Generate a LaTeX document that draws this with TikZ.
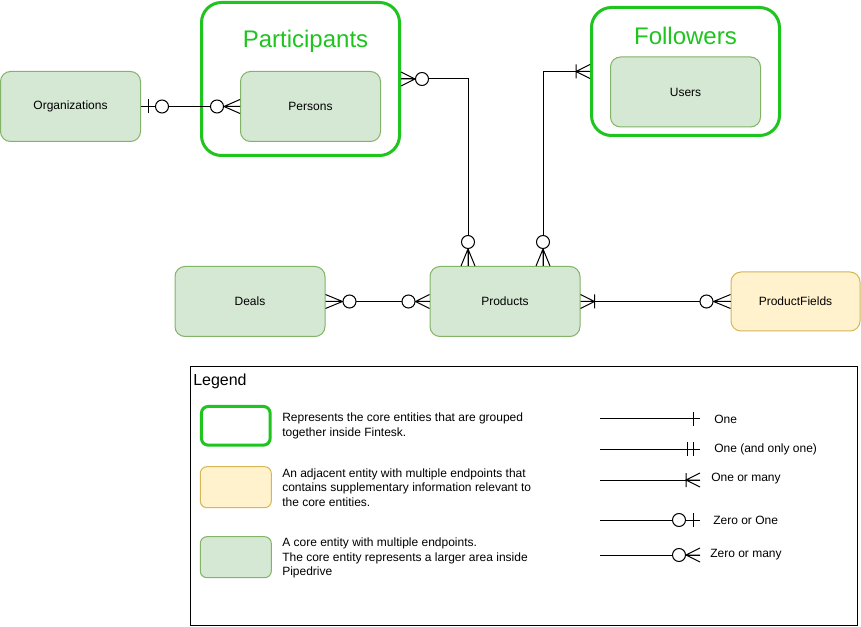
\documentclass[tikz,border=0pt]{standalone}
\usepackage{fontspec}
\setmainfont{Liberation Sans}
\usetikzlibrary{calc}
\definecolor{entfill}{HTML}{D5E8D4}
\definecolor{entdraw}{HTML}{82B366}
\definecolor{adjfill}{HTML}{FFF2CC}
\definecolor{adjdraw}{HTML}{D6B656}
\definecolor{grpgreen}{HTML}{1FC41F}
\tikzset{
  entity/.style={draw=entdraw, fill=entfill, rounded corners=7.5pt, line width=0.75pt,
    minimum width=112.5pt, minimum height=52.5pt, font=\fontsize{9}{10.8}\selectfont, inner sep=0pt},
  adjacent/.style={entity, draw=adjdraw, fill=adjfill},
  group/.style={draw=grpgreen, line width=2.25pt, rounded corners=15pt, inner sep=0pt},
  grouptitle/.style={text=grpgreen, font=\fontsize{18}{21.6}\selectfont, inner sep=0pt},
  conn/.style={line width=0.75pt, draw=black},
  legtext/.style={anchor=west, align=left, font=\fontsize{9}{10.8}\selectfont, inner sep=0pt},
}
% #1 circle position, #2 anchor, #3 direction away from the entity
\newcommand\ErZeroMany[3][23]{\begin{scope}[shift={(#2)},rotate=#3]
  \draw[conn] (0,7) -- ({#1-7},0) -- (0,-7) (0,0) -- ({#1-7},0);
  \draw[conn,fill=white] (#1,0) circle[radius=6.5];
\end{scope}}
\newcommand\ErZeroOne[2]{\begin{scope}[shift={(#1)},rotate=#2]
  \draw[conn] (7,7) -- (7,-7);
  \draw[conn,fill=white] (21,0) circle[radius=6.5];
\end{scope}}
\newcommand\ErOneMany[2]{\begin{scope}[shift={(#1)},rotate=#2]
  \draw[conn] (0,7) -- (14,0) -- (0,-7) (0,0) -- (14,0) (14,7) -- (14,-7);
\end{scope}}
\newcommand\ErOne[2]{\begin{scope}[shift={(#1)},rotate=#2]
  \draw[conn] (7,7) -- (7,-7);
\end{scope}}
\newcommand\ErOnlyOne[2]{\begin{scope}[shift={(#1)},rotate=#2]
  \draw[conn] (7,7) -- (7,-7) (13,7) -- (13,-7);
\end{scope}}
\begin{document}
\begin{tikzpicture}[x=0.75pt,y=-0.75pt]
\useasboundingbox[fill=white] (0,0) rectangle (861,627);

% groups
\node[group, minimum width=148.5pt, minimum height=114.75pt] (Participants) at (300.5,79) {};
\node[grouptitle] (ParticipantsTitle) at (305.5,41) {Participants};
\node[group, minimum width=141pt, minimum height=96pt] (Followers) at (685.5,71.5) {};
\node[grouptitle] (FollowersTitle) at (685.5,36) {Followers};

% entities
\node[entity, minimum width=105pt] (Organizations) at (70.5,106.5) {Organizations};
\node[entity, minimum width=105pt] (Persons) at (310.5,106.5) {Persons};
\node[entity] (Users) at (685.5,92) {Users};
\node[entity] (Deals) at (250,301.5) {Deals};
\node[entity] (Products) at (505,301.5) {Products};
\node[adjacent, minimum width=96.75pt, minimum height=44.25pt] (ProductFields) at (795.5,301.5) {ProductFields};

\coordinate (pA) at ($(Products.north)+(-37,0)$);
\coordinate (pB) at ($(Products.north)+(38,0)$);

% connectors
\draw[conn] (Organizations.east) -- (Persons.west);
\ErZeroOne{Organizations.east}{0}
\ErZeroMany{Persons.west}{180}

\draw[conn] (Participants.east) -| (pA);
\ErZeroMany[21]{Participants.east}{0}
\ErZeroMany[24]{pA}{90}

\draw[conn] (Followers.west) -| (pB);
\ErOneMany{Followers.west}{180}
\ErZeroMany[24]{pB}{90}

\draw[conn] (Deals.east) -- (Products.west);
\ErZeroMany[24]{Deals.east}{0}
\ErZeroMany[21]{Products.west}{180}

\draw[conn] (Products.east) -- (ProductFields.west);
\ErOneMany{Products.east}{0}
\ErZeroMany[24]{ProductFields.west}{180}

% legend
\node[draw, line width=0.75pt, minimum width=500.25pt, minimum height=194.6pt, inner sep=0pt] (Legend) at (524,496.25) {};
\node[anchor=west, inner sep=0pt, font=\fontsize{12}{14}\selectfont] (LegendTitle) at (193,381) {Legend};

\node[group, rounded corners=5pt, minimum width=51.5pt, minimum height=29pt] (LgGroup) at (235.8,425.8) {};
\node[adjacent, rounded corners=5pt, minimum width=53.25pt, minimum height=30.75pt] (LgAdj) at (235.8,487.2) {};
\node[entity, rounded corners=5pt, minimum width=53.25pt, minimum height=30.75pt] (LgEnt) at (235.8,557.2) {};

\node[legtext] (LgGroupText) at (282,425.8) {Represents the core entities that are grouped\\together inside Fintesk.};
\node[legtext] (LgAdjText) at (282,487.4) {An adjacent entity with multiple endpoints that\\contains supplementary information relevant to\\the core entities.};
\node[legtext] (LgEntText) at (282,558) {A core entity with multiple endpoints.\\The core entity represents a larger area inside\\Pipedrive};

% legend symbols
\coordinate (LaA) at (600,419); \coordinate (LaB) at (700,419);
\coordinate (LbA) at (600,449); \coordinate (LbB) at (700,449);
\coordinate (LcA) at (600,480); \coordinate (LcB) at (700,480);
\coordinate (LdA) at (600,520); \coordinate (LdB) at (700,520);
\coordinate (LeA) at (600,555); \coordinate (LeB) at (700,555);
\draw[conn] (LaA) -- (LaB); \ErOne{LaB}{180}
\draw[conn] (LbA) -- (LbB); \ErOnlyOne{LbB}{180}
\draw[conn] (LcA) -- (LcB); \ErOneMany{LcB}{180}
\draw[conn] (LdA) -- (LdB); \ErZeroOne{LdB}{180}
\draw[conn] (LeA) -- (LeB); \ErZeroMany[21]{LeB}{180}
\node[legtext] (LaT) at (714,419) {One};
\node[legtext] (LbT) at (714,449) {One (and only one)};
\node[legtext] (LcT) at (711,479) {One or many};
\node[legtext] (LdT) at (713,520) {Zero or One};
\node[legtext] (LeT) at (710,555) {Zero or many};
\end{tikzpicture}
\end{document}
